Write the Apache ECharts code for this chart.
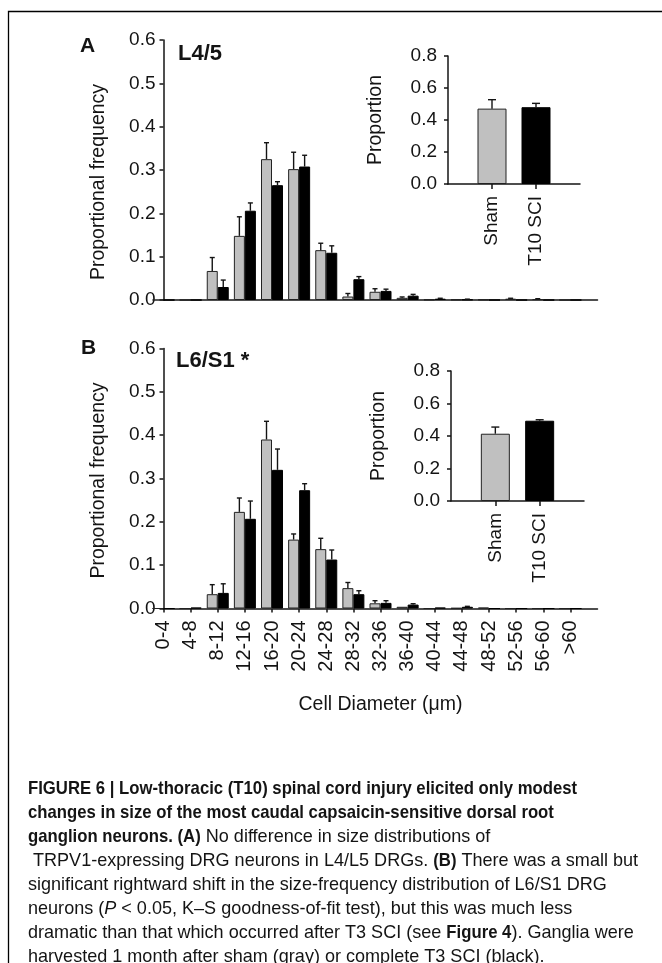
<!DOCTYPE html>
<html>
<head>
<meta charset="utf-8">
<script src="https://cdn.jsdelivr.net/npm/echarts@6/dist/echarts.min.js"></script>
<style>
html,body{margin:0;padding:0;background:#fff;}
#chart{width:662px;height:963px;}
</style>
</head>
<body>
<div id="chart"></div>
<script>
// ---------- data ----------
const categories = ['0-4','4-8','8-12','12-16','16-20','20-24','24-28','28-32','32-36','36-40','40-44','44-48','48-52','52-56','56-60','>60'];

// Panel A: L4/5
const shamA    = [0, 0, 0.067, 0.148, 0.325, 0.302, 0.115, 0.008, 0.019, 0.005, 0.001, 0.001, 0.001, 0.003, 0.002, 0];
const shamAErr = [0, 0, 0.031, 0.044, 0.038, 0.039, 0.016, 0.007, 0.007, 0.002, 0, 0, 0, 0.001, 0.001, 0];
const sciA     = [0, 0, 0.030, 0.206, 0.265, 0.308, 0.109, 0.048, 0.021, 0.010, 0.003, 0.001, 0, 0, 0, 0];
const sciAErr  = [0, 0, 0.016, 0.018, 0.008, 0.026, 0.016, 0.006, 0.004, 0.003, 0.001, 0.001, 0, 0, 0, 0];

// Panel B: L6/S1
const shamB    = [0, 0, 0.033, 0.223, 0.390, 0.159, 0.137, 0.047, 0.012, 0.004, 0, 0.001, 0.002, 0, 0, 0];
const shamBErr = [0, 0, 0.022, 0.032, 0.042, 0.013, 0.025, 0.013, 0.006, 0, 0, 0, 0, 0, 0, 0];
const sciB     = [0, 0.002, 0.036, 0.207, 0.320, 0.273, 0.113, 0.033, 0.013, 0.009, 0.002, 0.004, 0, 0, 0, 0];
const sciBErr  = [0, 0, 0.021, 0.041, 0.048, 0.015, 0.022, 0.008, 0.005, 0.002, 0, 0.001, 0, 0, 0, 0];

// Insets: proportion
const insetGroups = ['Sham', 'T10 SCI'];
const insetA    = [0.471, 0.480];
const insetAErr = [0.056, 0.024];
const insetB    = [0.414, 0.494];
const insetBErr = [0.041, 0.006];

// axis ticks
const freqAxis = {min: 0, max: 0.6, interval: 0.1};
const propAxis = {min: 0, max: 0.8, interval: 0.2};

// caption
const caption = [
  [['b', 'FIGURE 6 | Low-thoracic (T10) spinal cord injury elicited only modest']],
  [['b', 'changes in size of the most caudal capsaicin-sensitive dorsal root']],
  [['b', 'ganglion neurons. (A)'], ['r', ' No difference in size distributions of']],
  [['r', 'TRPV1-expressing DRG neurons in L4/L5 DRGs. '], ['b', '(B)'], ['r', ' There was a small but']],
  [['r', 'significant rightward shift in the size-frequency distribution of L6/S1 DRG']],
  [['r', 'neurons ('], ['i', 'P'], ['r', ' < 0.05, K\u2013S goodness-of-fit test), but this was much less']],
  [['r', 'dramatic than that which occurred after T3 SCI (see '], ['b', 'Figure 4'], ['r', '). Ganglia were']],
  [['r', 'harvested 1 month after sham (gray) or complete T3 SCI (black).']]
];

// ---------- style ----------
const FONT = '"Liberation Sans", Arial, Helvetica, sans-serif';
const INK = '#141414';
const GRAY = '#c0c0c0';
const BAR_W = 11;
const INSET_BAR_W = 29;
const TICK_FS = 19;
const XTICK_FS = 20;
const NAME_FS = 19.5;

const xCats = categories.concat(['']);
const insetCats = [''].concat(insetGroups, ['']);

const chart = echarts.init(document.getElementById('chart'), null, {renderer: 'canvas'});

function errRender(half, cap) {
  return function (params, api) {
    const i = api.value(0), v = api.value(1), e = api.value(2), side = api.value(3);
    if (!(e > 0)) return null;
    const base = api.coord([i, v]);
    const top = api.coord([i, v + e]);
    const x = base[0] + side * half;
    const st = {stroke: INK, lineWidth: 1.4};
    return {
      type: 'group',
      children: [
        {type: 'line', shape: {x1: x, y1: base[1], x2: x, y2: top[1]}, style: st},
        {type: 'line', shape: {x1: x - cap, y1: top[1], x2: x + cap, y2: top[1]}, style: st}
      ]
    };
  };
}

function mainY(gi, shiftDown) {
  return {
    gridIndex: gi, type: 'value', min: freqAxis.min, max: freqAxis.max, interval: freqAxis.interval,
    axisLine: {show: true, lineStyle: {color: INK, width: 1.5}},
    axisTick: {show: true, length: 4, lineStyle: {color: INK, width: 1.5}},
    axisLabel: {margin: 8, fontSize: TICK_FS, color: INK, fontFamily: FONT, formatter: v => v.toFixed(1)},
    splitLine: {show: false},
    name: 'Proportional frequency', nameLocation: 'middle', nameGap: 55,
    nameTextStyle: {fontSize: NAME_FS, color: INK, fontFamily: FONT, padding: [0, shiftDown * 2, 0, 0]}
  };
}
function insetY(gi) {
  return {
    gridIndex: gi, type: 'value', min: propAxis.min, max: propAxis.max, interval: propAxis.interval,
    axisLine: {show: true, lineStyle: {color: INK, width: 1.5}},
    axisTick: {show: true, length: 4, lineStyle: {color: INK, width: 1.5}},
    axisLabel: {margin: 11, fontSize: TICK_FS, color: INK, fontFamily: FONT, formatter: v => v.toFixed(1)},
    splitLine: {show: false},
    name: 'Proportion', nameLocation: 'middle', nameGap: 62,
    nameTextStyle: {fontSize: NAME_FS, color: INK, fontFamily: FONT}
  };
}
function insetX(gi) {
  return {
    gridIndex: gi, type: 'category', data: insetCats, boundaryGap: false,
    axisLine: {show: true, lineStyle: {color: INK, width: 1.5}},
    axisTick: {show: true, length: 5, interval: (i, v) => v !== '', lineStyle: {color: INK, width: 1.5}},
    axisLabel: {rotate: 90, margin: 12, fontSize: TICK_FS, color: INK, fontFamily: FONT, interval: (i, v) => v !== ''},
    splitLine: {show: false}
  };
}

function barSeries(xi, values, color, border) {
  return {
    type: 'bar', xAxisIndex: xi, yAxisIndex: xi, data: values,
    barWidth: BAR_W, barGap: '0%',
    itemStyle: {color: color, borderColor: border, borderWidth: 1},
    silent: true, animation: false
  };
}
function errSeries(xi, sham, shamErr, sci, sciErr) {
  const data = [];
  sham.forEach((v, i) => data.push([i, v, shamErr[i], -1]));
  sci.forEach((v, i) => data.push([i, v, sciErr[i], 1]));
  return {
    type: 'custom', xAxisIndex: xi, yAxisIndex: xi, data: data,
    encode: {x: 0, y: 1}, renderItem: errRender(BAR_W / 2, 2.5), z: 3, silent: true, animation: false
  };
}
function insetBar(xi, values) {
  return {
    type: 'bar', xAxisIndex: xi, yAxisIndex: xi,
    data: values.map((v, k) => ({
      value: [k + 1, v],
      itemStyle: {color: k === 0 ? GRAY : '#000', borderColor: k === 0 ? '#222' : '#000', borderWidth: 1}
    })),
    barWidth: INSET_BAR_W, silent: true, animation: false
  };
}
function insetErr(xi, values, errs) {
  return {
    type: 'custom', xAxisIndex: xi, yAxisIndex: xi,
    data: values.map((v, k) => [k + 1, v, errs[k], 0]),
    encode: {x: 0, y: 1}, renderItem: errRender(0, 4), z: 3, silent: true, animation: false
  };
}

// caption layout: condensed look via horizontal scaling per weight
const CAP_FS = 19;
const CAP_SCALE = {b: 0.88, r: 0.95, i: 0.95};
const measureCtx = document.createElement('canvas').getContext('2d');
function capFont(kind) {
  return (kind === 'i' ? 'italic ' : '') + (kind === 'b' ? 'bold ' : '') + CAP_FS + 'px ' + FONT;
}
const graphics = [
  {type: 'rect', shape: {x: 8.5, y: 11.5, width: 720, height: 1000}, style: {fill: 'none', stroke: '#000', lineWidth: 1.3}, silent: true},
  {type: 'text', x: 80, y: 46, style: {text: 'A', fontFamily: FONT, fontSize: 21, fontWeight: 'bold', fill: INK, verticalAlign: 'middle'}},
  {type: 'text', x: 178, y: 54, style: {text: 'L4/5', fontFamily: FONT, fontSize: 22, fontWeight: 'bold', fill: INK, verticalAlign: 'middle'}},
  {type: 'text', x: 81, y: 348, style: {text: 'B', fontFamily: FONT, fontSize: 21, fontWeight: 'bold', fill: INK, verticalAlign: 'middle'}},
  {type: 'text', x: 176, y: 361, style: {text: 'L6/S1 *', fontFamily: FONT, fontSize: 22, fontWeight: 'bold', fill: INK, verticalAlign: 'middle'}}
];
caption.forEach((line, k) => {
  let cx = (k === 3) ? 33 : 28;
  const cy = 789 + k * 24;
  line.forEach(([kind, txt]) => {
    measureCtx.font = capFont(kind);
    const w = measureCtx.measureText(txt).width * CAP_SCALE[kind];
    graphics.push({
      type: 'text', x: cx, y: cy, scaleX: CAP_SCALE[kind], silent: true,
      style: {
        text: txt, fontFamily: FONT, fontSize: CAP_FS,
        fontWeight: kind === 'b' ? 'bold' : 'normal',
        fontStyle: kind === 'i' ? 'italic' : 'normal',
        fill: INK, verticalAlign: 'middle', textAlign: 'left'
      }
    });
    cx += w;
  });
});

const option = {
  backgroundColor: '#fff',
  animation: false,
  grid: [
    {left: 163.5, top: 40, width: 434, height: 260, outerBoundsMode: 'none'},
    {left: 448, top: 56, width: 132, height: 128, outerBoundsMode: 'none'},
    {left: 163.5, top: 348.5, width: 434, height: 260, outerBoundsMode: 'none'},
    {left: 451, top: 371, width: 133, height: 130, outerBoundsMode: 'none'}
  ],
  xAxis: [
    {gridIndex: 0, type: 'category', data: xCats, boundaryGap: false,
     axisLine: {show: true, lineStyle: {color: INK, width: 1.5}},
     axisTick: {show: false}, axisLabel: {show: false}, splitLine: {show: false}},
    insetX(1),
    {gridIndex: 2, type: 'category', data: xCats, boundaryGap: false,
     axisLine: {show: true, lineStyle: {color: INK, width: 1.5}},
     axisTick: {show: true, length: 4, interval: (i, v) => v !== '', lineStyle: {color: INK, width: 1.5}},
     axisLabel: {rotate: 90, margin: 12, fontSize: XTICK_FS, color: INK, fontFamily: FONT, interval: (i, v) => v !== ''},
     splitLine: {show: false},
     name: 'Cell Diameter (\u03bcm)', nameLocation: 'middle', nameGap: 86,
     nameTextStyle: {fontSize: NAME_FS, color: INK, fontFamily: FONT}},
    insetX(3)
  ],
  yAxis: [mainY(0, 12), insetY(1), mainY(2, 2), insetY(3)],
  series: [
    barSeries(0, shamA, GRAY, '#222'),
    barSeries(0, sciA, '#000', '#000'),
    errSeries(0, shamA, shamAErr, sciA, sciAErr),
    insetBar(1, insetA),
    insetErr(1, insetA, insetAErr),
    barSeries(2, shamB, GRAY, '#222'),
    barSeries(2, sciB, '#000', '#000'),
    errSeries(2, shamB, shamBErr, sciB, sciBErr),
    insetBar(3, insetB),
    insetErr(3, insetB, insetBErr)
  ],
  graphic: graphics
};
chart.setOption(option);
</script>
</body>
</html>
